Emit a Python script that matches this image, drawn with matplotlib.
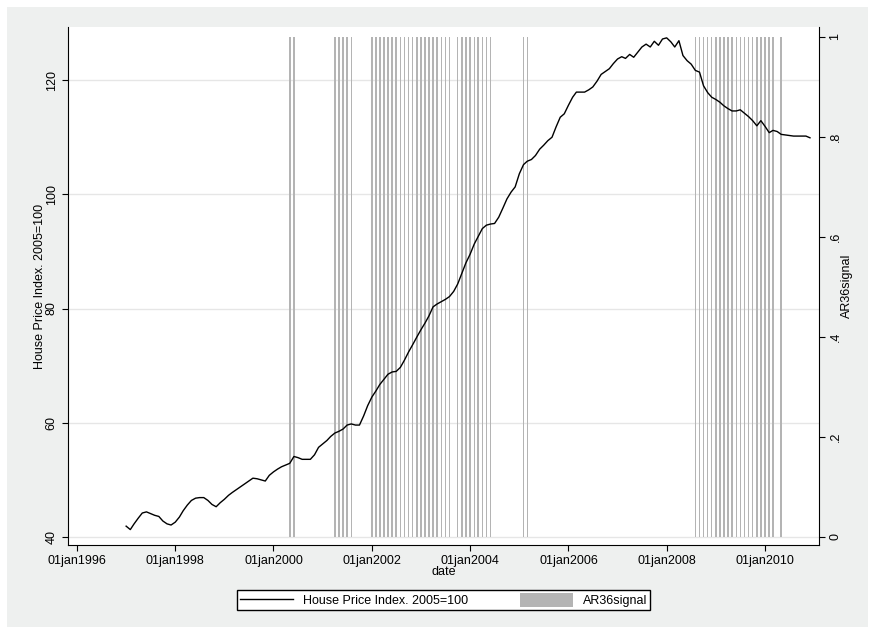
import matplotlib
matplotlib.use("Agg")
import matplotlib.pyplot as plt
import pandas as pd
from datetime import datetime
from matplotlib.patches import Rectangle

plt.rcParams['font.family'] = ['Liberation Sans', 'DejaVu Sans']
plt.rcParams['font.size'] = 9

# monthly house price index, Jan 1997 .. Dec 2010 (one row per year)
hpi = [
    41.9, 41.3, 42.3, 43.3, 44.2, 44.4, 44.1, 43.8, 43.6, 42.8, 42.3, 42.1,
    42.6, 43.5, 44.6, 45.6, 46.4, 46.8, 46.9, 46.9, 46.4, 45.7, 45.3, 46.0,
    46.6, 47.3, 47.8, 48.3, 48.8, 49.3, 49.8, 50.3, 50.2, 50.0, 49.8, 50.8,
    51.4, 51.9, 52.3, 52.6, 52.9, 54.1, 53.9, 53.6, 53.6, 53.6, 54.4, 55.7,
    56.3, 56.9, 57.6, 58.2, 58.5, 58.9, 59.6, 59.8, 59.6, 59.6, 61.2, 63.0,
    64.5, 65.6, 66.7, 67.6, 68.5, 68.9, 69.0, 69.7, 71.0, 72.4, 73.7, 75.0,
    76.3, 77.5, 78.7, 80.3, 80.8, 81.2, 81.6, 82.1, 83.0, 84.3, 86.2, 88.0,
    89.5, 91.3, 92.6, 94.0, 94.6, 94.8, 94.9, 96.0, 97.6, 99.2, 100.4, 101.3,
    103.6, 105.2, 105.8, 106.1, 106.8, 107.9, 108.6, 109.4, 110.0, 111.8, 113.5, 114.1,
    115.6, 117.0, 117.9, 117.9, 117.9, 118.3, 118.8, 119.8, 121.0, 121.5, 122.0, 122.9,
    123.7, 124.1, 123.8, 124.5, 124.0, 124.9, 125.8, 126.3, 125.8, 126.8, 126.1, 127.2,
    127.4, 126.7, 125.8, 126.9, 124.3, 123.4, 122.8, 121.7, 121.4, 119.0, 117.8, 117.0,
    116.6, 116.1, 115.5, 115.0, 114.6, 114.6, 114.8, 114.2, 113.6, 112.9, 112.0, 112.9,
    111.9, 110.8, 111.2, 111.0, 110.5, 110.4, 110.3, 110.2, 110.2, 110.2, 110.2, 109.9,
]

# AR36 signal (0/1), same months
signal = [
    0, 0, 0, 0, 0, 0, 0, 0, 0, 0, 0, 0,
    0, 0, 0, 0, 0, 0, 0, 0, 0, 0, 0, 0,
    0, 0, 0, 0, 0, 0, 0, 0, 0, 0, 0, 0,
    0, 0, 0, 0, 1, 1, 0, 0, 0, 0, 0, 0,
    0, 0, 0, 1, 1, 1, 1, 1, 0, 0, 0, 0,
    1, 1, 1, 1, 1, 1, 1, 1, 1, 1, 1, 1,
    1, 1, 1, 1, 1, 1, 1, 1, 0, 1, 1, 1,
    1, 1, 1, 1, 1, 1, 0, 0, 0, 0, 0, 0,
    0, 1, 1, 0, 0, 0, 0, 0, 0, 0, 0, 0,
    0, 0, 0, 0, 0, 0, 0, 0, 0, 0, 0, 0,
    0, 0, 0, 0, 0, 0, 0, 0, 0, 0, 0, 0,
    0, 0, 0, 0, 0, 0, 0, 1, 1, 1, 1, 1,
    1, 1, 1, 1, 1, 1, 1, 1, 1, 1, 1, 1,
    1, 1, 1, 0, 1, 0, 0, 0, 0, 0, 0, 0,
]

dates = pd.date_range("1997-01-01", periods=len(hpi), freq="MS")
tick_years = [1996, 1998, 2000, 2002, 2004, 2006, 2008, 2010]
tick_labels = ["01jan%d" % y for y in tick_years]
left_ticks = [40, 60, 80, 100, 120]
right_ticks = [0, 0.2, 0.4, 0.6, 0.8, 1]
right_labels = ["0", ".2", ".4", ".6", ".8", "1"]

fig = plt.figure(figsize=(8.75, 6.34), dpi=100, facecolor="white")
fig.patches.append(Rectangle((7 / 875, 7 / 634), 861 / 875, 620 / 634,
                             transform=fig.transFigure, facecolor="#eef0ef",
                             edgecolor="none", zorder=-10))

ax = fig.add_axes([68 / 875, 1 - 545 / 634, (819 - 68) / 875, (545 - 27) / 634])
ax.set_facecolor("white")
ax2 = ax.twinx()
ax2.patch.set_visible(False)

ax.set_xlim(datetime(1995, 10, 27), datetime(2011, 2, 6))
ax.set_ylim(38.6, 129.3)
ax2.set_ylim(-0.016, 1.02)

ax.yaxis.grid(True, color="#e6e6e6", linewidth=1.0)
ax.set_axisbelow(True)

bars = ax2.bar(dates, signal, width=11, color="#b4b4b4", edgecolor="none",
               linewidth=0, label="AR36signal")
line, = ax2.plot(dates, hpi, color="black", linewidth=1.0,
                 transform=ax.transData, label="House Price Index. 2005=100")

ax.set_xticks([datetime(y, 1, 1) for y in tick_years])
ax.set_xticklabels(tick_labels)
ax.set_yticks(left_ticks)
ax.set_yticklabels([str(v) for v in left_ticks], rotation=90, va="center")
ax2.set_yticks(right_ticks)
ax2.set_yticklabels(right_labels, rotation=90, va="center")

for a in (ax, ax2):
    a.spines["top"].set_visible(False)
    a.tick_params(length=4, width=0.8, colors="black")
ax.spines["right"].set_visible(False)
ax2.spines["left"].set_visible(False)
ax2.spines["bottom"].set_visible(False)

ax.set_xlabel("date", labelpad=-1)
ax.set_ylabel("House Price Index. 2005=100", labelpad=0)
ax2.set_ylabel("AR36signal", labelpad=0)

fig.legend(handles=[line, bars], loc="center", bbox_to_anchor=(0.507, 0.0536),
           ncol=2, frameon=True, fancybox=False, edgecolor="black",
           facecolor="white", framealpha=1, handlelength=4.2, handleheight=1.3,
           columnspacing=4.2, borderpad=0.25)

fig.savefig("out.png", dpi=100, facecolor=fig.get_facecolor())
